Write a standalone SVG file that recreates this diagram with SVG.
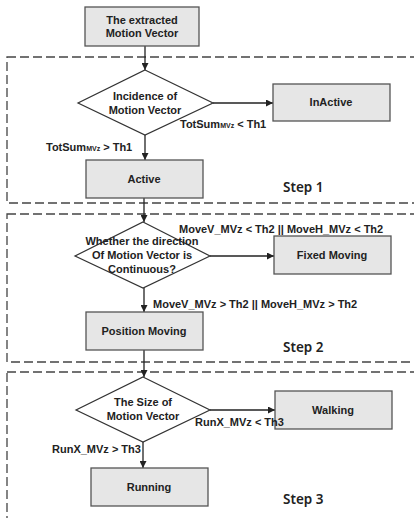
<svg xmlns="http://www.w3.org/2000/svg" width="414" height="518" viewBox="0 0 414 518">
  <defs>
    <marker id="arrow" viewBox="0 0 10 10" refX="10" refY="5" markerWidth="9" markerHeight="7" markerUnits="userSpaceOnUse" orient="auto">
      <path d="M0,0 L10,5 L0,10 z" fill="#222"/>
    </marker>
    <style>
      .step-frame { fill: none; stroke: #444; stroke-width: 1.3; stroke-dasharray: 9 4; }
      .box { fill: #e6e6e6; stroke: #555; stroke-width: 1.3; }
      .decision { fill: #fff; stroke: #333; stroke-width: 1.2; }
      .label { font-family: "Liberation Sans", Arial, sans-serif; font-size: 11px; font-weight: bold; fill: #222; }
      .center { text-anchor: middle; }
      .sub { font-size: 7px; }
      .step { font-family: "Noto Sans", "Liberation Sans", sans-serif; font-size: 13.5px; font-weight: 600; fill: #222; }
      .link { fill: none; stroke: #222; stroke-width: 1.3; marker-end: url(#arrow); }
    </style>
  </defs>

  <!-- step frames -->
  <g id="frames">
    <rect class="step-frame" x="7" y="57" width="420" height="146"/>
    <rect class="step-frame" x="7" y="214" width="420" height="148"/>
    <rect class="step-frame" x="7" y="372" width="420" height="170"/>
  </g>

  <!-- connectors -->
  <g id="connectors">
    <line class="link" x1="145" y1="46" x2="145" y2="70"/>
    <line class="link" x1="213" y1="103" x2="273" y2="103"/>
    <line class="link" x1="145" y1="135" x2="145" y2="160"/>
    <line class="link" x1="144" y1="198" x2="144" y2="222"/>
    <line class="link" x1="210" y1="256" x2="274" y2="256"/>
    <line class="link" x1="144" y1="288" x2="144" y2="312"/>
    <line class="link" x1="144" y1="350" x2="144" y2="377"/>
    <line class="link" x1="210" y1="410" x2="275" y2="410"/>
    <line class="link" x1="143" y1="442" x2="143" y2="468"/>
  </g>

  <g id="extracted">
    <rect class="box" x="85" y="7" width="114" height="39"/>
    <text class="label center" x="142" y="24">The extracted</text>
    <text class="label center" x="142" y="37">Motion Vector</text>
  </g>

  <g id="incidence">
    <polygon class="decision" points="145,70 213,103 145,135 78,103"/>
    <text class="label center" x="145" y="100">Incidence of</text>
    <text class="label center" x="145" y="114">Motion Vector</text>
  </g>

  <g id="inactive">
    <rect class="box" x="273" y="84" width="117" height="37"/>
    <text class="label center" x="331" y="106">InActive</text>
  </g>

  <g id="active">
    <rect class="box" x="86" y="160" width="117" height="38"/>
    <text class="label center" x="144" y="183">Active</text>
  </g>

  <g id="direction">
    <polygon class="decision" points="143,222 210,256 143,288 75,256"/>
    <text class="label center" x="142" y="245">Whether the direction</text>
    <text class="label center" x="142" y="259">Of Motion Vector is</text>
    <text class="label center" x="142" y="273">Continuous?</text>
  </g>

  <g id="fixed-moving">
    <rect class="box" x="274" y="236" width="117" height="38"/>
    <text class="label center" x="332" y="259">Fixed Moving</text>
  </g>

  <g id="position-moving">
    <rect class="box" x="86" y="312" width="117" height="38"/>
    <text class="label center" x="144" y="335">Position Moving</text>
  </g>

  <g id="size">
    <polygon class="decision" points="143,377 210,410 143,442 76,410"/>
    <text class="label center" x="143" y="406">The Size of</text>
    <text class="label center" x="143" y="420">Motion Vector</text>
  </g>

  <g id="walking">
    <rect class="box" x="275" y="391" width="117" height="38"/>
    <text class="label center" x="333" y="414">Walking</text>
  </g>

  <g id="running">
    <rect class="box" x="91" y="468" width="117" height="38"/>
    <text class="label center" x="149" y="491">Running</text>
  </g>

  <!-- branch conditions -->
  <g id="conditions">
    <text class="label" x="180" y="128">TotSum<tspan class="sub">MVz</tspan> &lt; Th1</text>
    <text class="label" x="46" y="151">TotSum<tspan class="sub">MVz</tspan> &gt; Th1</text>
    <text class="label" x="179" y="233">MoveV_MVz &lt; Th2 || MoveH_MVz &lt; Th2</text>
    <text class="label" x="153" y="308">MoveV_MVz &gt; Th2 || MoveH_MVz &gt; Th2</text>
    <text class="label" x="195" y="426">RunX_MVz &lt; Th3</text>
    <text class="label" x="52" y="453">RunX_MVz &gt; Th3</text>
  </g>

  <!-- step titles -->
  <g id="steps">
    <text class="step" x="283" y="192">Step 1</text>
    <text class="step" x="283" y="352">Step 2</text>
    <text class="step" x="283" y="504">Step 3</text>
  </g>
</svg>
